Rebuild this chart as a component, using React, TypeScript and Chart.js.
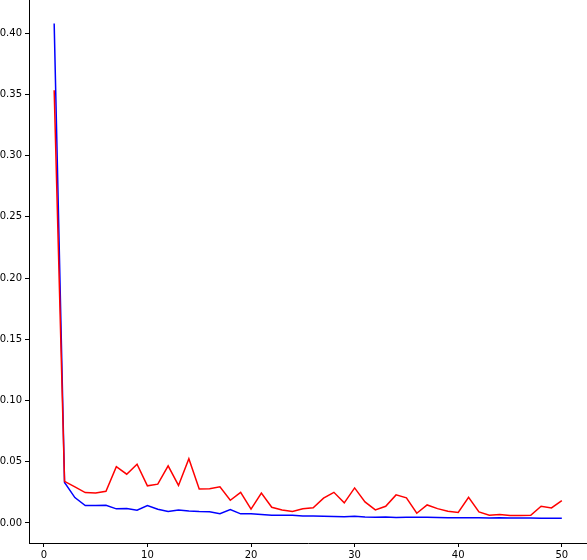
import React, { useEffect, useRef } from 'react';
import { Chart, registerables } from 'chart.js';

Chart.register(...registerables);

const epochs: number[] = Array.from({ length: 50 }, (_, i) => i + 1);

const redValues: number[] = [
  0.3535, 0.034, 0.0295, 0.0248, 0.0245, 0.0259, 0.046, 0.0398, 0.048, 0.0303,
  0.0317, 0.0466, 0.0306, 0.0524, 0.0278, 0.028, 0.0295, 0.0185, 0.025, 0.0112,
  0.0243, 0.0128, 0.0106, 0.0093, 0.0115, 0.0123, 0.0202, 0.025, 0.0164, 0.0286,
  0.0172, 0.0106, 0.0136, 0.0229, 0.0205, 0.0079, 0.0147, 0.0117, 0.0095, 0.0085,
  0.021, 0.009, 0.0063, 0.0068, 0.006, 0.006, 0.0063, 0.0136, 0.0123, 0.0183,
];

const blueValues: number[] = [
  0.408, 0.033, 0.0207, 0.0142, 0.0142, 0.0145, 0.0115, 0.0118, 0.0104, 0.0142,
  0.0112, 0.0093, 0.0106, 0.0098, 0.0093, 0.0091, 0.0076, 0.0109, 0.0074, 0.0074,
  0.0068, 0.0063, 0.0063, 0.0063, 0.0057, 0.0057, 0.0054, 0.0052, 0.005, 0.0054,
  0.0049, 0.0046, 0.0049, 0.0044, 0.0046, 0.0046, 0.0046, 0.0044, 0.0043, 0.0043,
  0.0043, 0.0043, 0.004, 0.0043, 0.004, 0.004, 0.004, 0.0038, 0.0038, 0.0038,
];

const xTicks: number[] = [0, 10, 20, 30, 40, 50];
const yTicks: number[] = [0, 0.05, 0.1, 0.15, 0.2, 0.25, 0.3, 0.35, 0.4];

// strip the extra room Chart.js keeps for edge labels
const noPadding = (scale: any) => {
  scale.paddingTop = 0;
  scale.paddingBottom = 0;
  scale.paddingLeft = 0;
  scale.paddingRight = 0;
};

const App: React.FC = () => {
  const chartRef = useRef<HTMLCanvasElement>(null);
  const chartInstanceRef = useRef<Chart | null>(null);

  useEffect(() => {
    document.body.style.margin = '0';
    if (!chartRef.current) return;
    const ctx = chartRef.current.getContext('2d');
    if (!ctx) return;
    if (chartInstanceRef.current) chartInstanceRef.current.destroy();

    const font = { family: 'DejaVu Sans', size: 10 };

    chartInstanceRef.current = new Chart(ctx, {
      type: 'line',
      data: {
        datasets: [
          {
            label: 'red',
            data: epochs.map((x, i) => ({ x, y: redValues[i] })),
            borderColor: '#ff0000',
            borderWidth: 1.5,
            pointRadius: 0,
            tension: 0,
          },
          {
            label: 'blue',
            data: epochs.map((x, i) => ({ x, y: blueValues[i] })),
            borderColor: '#0000ff',
            borderWidth: 1.5,
            pointRadius: 0,
            tension: 0,
          },
        ],
      },
      options: {
        animation: false,
        responsive: true,
        maintainAspectRatio: false,
        layout: { padding: 0 },
        plugins: {
          legend: { display: false },
          tooltip: { enabled: false },
        },
        scales: {
          x: {
            type: 'linear',
            min: -1.43,
            max: 52.43,
            afterBuildTicks: (scale) => {
              scale.ticks = xTicks.map((value) => ({ value }));
            },
            afterFit: (scale) => {
              scale.height = 17;
              noPadding(scale);
            },
            grid: {
              display: true,
              drawOnChartArea: false,
              drawTicks: true,
              tickLength: 4,
              color: '#000000',
            },
            border: { display: true, color: '#000000', width: 1 },
            ticks: {
              font,
              color: '#000000',
              padding: 2,
              maxRotation: 0,
              callback: (v) => String(v),
            },
          },
          y: {
            type: 'linear',
            min: -0.0164,
            max: 0.4272,
            afterBuildTicks: (scale) => {
              scale.ticks = yTicks.map((value) => ({ value }));
            },
            afterFit: (scale) => {
              scale.width = 29;
              noPadding(scale);
            },
            grid: {
              display: true,
              drawOnChartArea: false,
              drawTicks: true,
              tickLength: 4,
              color: '#000000',
            },
            border: { display: true, color: '#000000', width: 1 },
            ticks: {
              font,
              color: '#000000',
              padding: 3,
              callback: (v) => Number(v).toFixed(2),
            },
          },
        },
      },
    });

    return () => {
      if (chartInstanceRef.current) {
        chartInstanceRef.current.destroy();
        chartInstanceRef.current = null;
      }
    };
  }, []);

  return (
    <div style={{ position: 'relative', width: 587, height: 560 }}>
      <canvas ref={chartRef}></canvas>
    </div>
  );
};

export default App;
